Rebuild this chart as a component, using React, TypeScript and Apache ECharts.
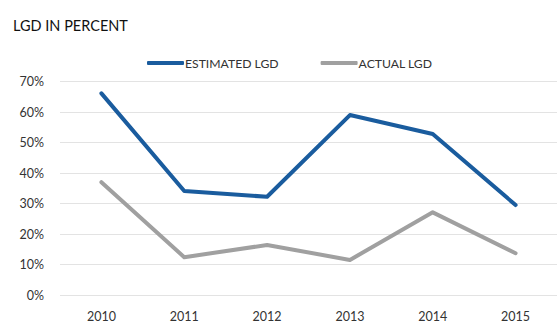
import React, { useEffect, useRef } from "react";
import * as echarts from "echarts";

const years = ["2010", "2011", "2012", "2013", "2014", "2015"];
const estimatedLgd = [66.1, 34.1, 32.2, 59.0, 52.8, 29.5];
const actualLgd = [37.0, 12.4, 16.4, 11.5, 27.1, 13.7];
const yTicks = { min: 0, max: 70, interval: 10 };

const FONT = "Lato, 'Open Sans', sans-serif";

export default function App() {
  const ref = useRef<HTMLDivElement>(null);

  useEffect(() => {
    if (!ref.current) return;
    const chart = echarts.init(ref.current, null, { renderer: "svg" });
    chart.setOption({
      animation: false,
      backgroundColor: "#ffffff",
      title: {
        text: "LGD IN PERCENT",
        left: 8,
        top: 13,
        textStyle: { fontFamily: FONT, fontSize: 14.5, fontWeight: "normal", color: "#111" },
      },
      legend: {
        left: 142,
        top: 52,
        itemWidth: 37,
        itemHeight: 4,
        itemGap: 42,
        icon: "roundRect",
        textStyle: { fontFamily: FONT, fontSize: 12.2, color: "#333", padding: [0, 0, 0, -4] },
        data: ["ESTIMATED LGD", "ACTUAL LGD"],
      },
      grid: { left: 60, right: -11, top: 81.5, bottom: 28 },
      xAxis: {
        type: "category",
        data: years,
        boundaryGap: true,
        axisLine: { show: false },
        axisTick: { show: false },
        axisLabel: { fontFamily: FONT, fontSize: 12.5, color: "#333", margin: 15 },
      },
      yAxis: {
        type: "value",
        min: yTicks.min,
        max: yTicks.max,
        interval: yTicks.interval,
        axisLine: { show: false },
        axisTick: { show: false },
        splitLine: { lineStyle: { color: "#e3e3e3", width: 1 } },
        axisLabel: {
          fontFamily: FONT,
          fontSize: 12.5,
          color: "#333",
          margin: 16,
          formatter: (v: number) => `${v}%`,
        },
      },
      series: [
        {
          name: "ESTIMATED LGD",
          type: "line",
          data: estimatedLgd,
          symbol: "none",
          color: "#1a5c9e",
          lineStyle: { width: 4, color: "#1a5c9e", cap: "round", join: "round" },
        },
        {
          name: "ACTUAL LGD",
          type: "line",
          data: actualLgd,
          symbol: "none",
          color: "#a0a0a0",
          lineStyle: { width: 4, color: "#a0a0a0", cap: "round", join: "round" },
        },
      ],
    });
    return () => chart.dispose();
  }, []);

  return <div ref={ref} style={{ width: 557, height: 323, position: "absolute", left: 0, top: 0 }} />;
}
